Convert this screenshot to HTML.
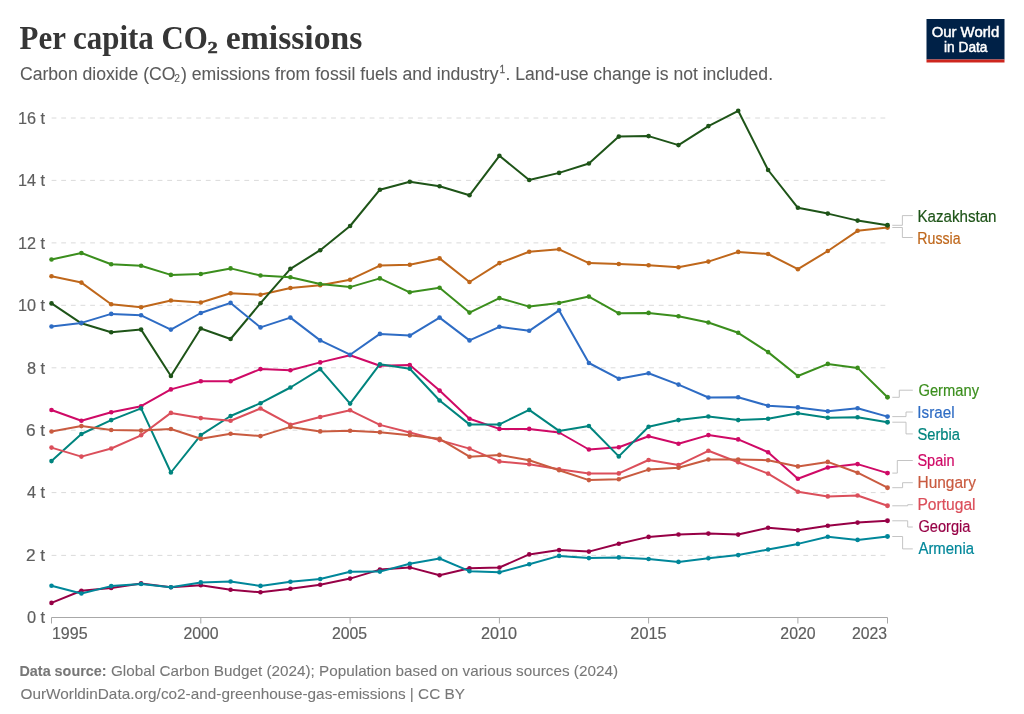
<!DOCTYPE html>
<html><head><meta charset="utf-8"><style>
html,body{margin:0;padding:0;background:#fff;}
body{width:1024px;height:714px;overflow:hidden;position:relative;}
svg{position:absolute;left:0;top:0;will-change:transform;}
text{font-family:"Liberation Sans",sans-serif;}
</style></head><body>
<svg width="1024" height="714" viewBox="0 0 1024 714">
<g id="chart">
<line x1="51.6" y1="118.0" x2="885.6" y2="118.0" stroke="#dadada" stroke-width="1" stroke-dasharray="4.82,4.818"/>
<line x1="51.6" y1="180.4" x2="885.6" y2="180.4" stroke="#dadada" stroke-width="1" stroke-dasharray="4.82,4.818"/>
<line x1="51.6" y1="242.9" x2="885.6" y2="242.9" stroke="#dadada" stroke-width="1" stroke-dasharray="4.82,4.818"/>
<line x1="51.6" y1="305.3" x2="885.6" y2="305.3" stroke="#dadada" stroke-width="1" stroke-dasharray="4.82,4.818"/>
<line x1="51.6" y1="367.8" x2="885.6" y2="367.8" stroke="#dadada" stroke-width="1" stroke-dasharray="4.82,4.818"/>
<line x1="51.6" y1="430.2" x2="885.6" y2="430.2" stroke="#dadada" stroke-width="1" stroke-dasharray="4.82,4.818"/>
<line x1="51.6" y1="492.6" x2="885.6" y2="492.6" stroke="#dadada" stroke-width="1" stroke-dasharray="4.82,4.818"/>
<line x1="51.6" y1="555.4" x2="885.6" y2="555.4" stroke="#dadada" stroke-width="1" stroke-dasharray="4.82,4.818"/>
<line x1="51.5" y1="617.5" x2="887.5" y2="617.5" stroke="#a8a8a8" stroke-width="1"/>
<line x1="51.5" y1="617.5" x2="51.5" y2="623.5" stroke="#a8a8a8" stroke-width="1"/>
<line x1="200.8" y1="617.5" x2="200.8" y2="623.5" stroke="#a8a8a8" stroke-width="1"/>
<line x1="350.1" y1="617.5" x2="350.1" y2="623.5" stroke="#a8a8a8" stroke-width="1"/>
<line x1="499.4" y1="617.5" x2="499.4" y2="623.5" stroke="#a8a8a8" stroke-width="1"/>
<line x1="648.6" y1="617.5" x2="648.6" y2="623.5" stroke="#a8a8a8" stroke-width="1"/>
<line x1="797.9" y1="617.5" x2="797.9" y2="623.5" stroke="#a8a8a8" stroke-width="1"/>
<line x1="887.5" y1="617.5" x2="887.5" y2="623.5" stroke="#a8a8a8" stroke-width="1"/>
<rect x="926.5" y="19" width="78" height="40.5" fill="#002147"/>
<rect x="926.5" y="59.5" width="78" height="3" fill="#ce261e"/>
<polyline points="51.5,410.0 81.4,420.8 111.2,412.3 141.1,406.2 170.9,389.4 200.8,381.3 230.6,381.3 260.5,369.1 290.4,370.2 320.2,362.4 350.1,355.2 379.9,365.8 409.8,365.1 439.6,390.6 469.5,418.8 499.4,428.9 529.2,428.9 559.1,432.5 588.9,449.5 618.8,447.2 648.6,436.2 678.5,443.8 708.4,435.1 738.2,439.4 768.1,452.2 797.9,478.7 827.8,467.5 857.6,464.1 887.5,473.1" fill="none" stroke="#CF0A66" stroke-width="2" stroke-linejoin="round" stroke-linecap="round"/>
<circle cx="51.5" cy="410.0" r="2.3" fill="#CF0A66"/>
<circle cx="81.4" cy="420.8" r="2.3" fill="#CF0A66"/>
<circle cx="111.2" cy="412.3" r="2.3" fill="#CF0A66"/>
<circle cx="141.1" cy="406.2" r="2.3" fill="#CF0A66"/>
<circle cx="170.9" cy="389.4" r="2.3" fill="#CF0A66"/>
<circle cx="200.8" cy="381.3" r="2.3" fill="#CF0A66"/>
<circle cx="230.6" cy="381.3" r="2.3" fill="#CF0A66"/>
<circle cx="260.5" cy="369.1" r="2.3" fill="#CF0A66"/>
<circle cx="290.4" cy="370.2" r="2.3" fill="#CF0A66"/>
<circle cx="320.2" cy="362.4" r="2.3" fill="#CF0A66"/>
<circle cx="350.1" cy="355.2" r="2.3" fill="#CF0A66"/>
<circle cx="379.9" cy="365.8" r="2.3" fill="#CF0A66"/>
<circle cx="409.8" cy="365.1" r="2.3" fill="#CF0A66"/>
<circle cx="439.6" cy="390.6" r="2.3" fill="#CF0A66"/>
<circle cx="469.5" cy="418.8" r="2.3" fill="#CF0A66"/>
<circle cx="499.4" cy="428.9" r="2.3" fill="#CF0A66"/>
<circle cx="529.2" cy="428.9" r="2.3" fill="#CF0A66"/>
<circle cx="559.1" cy="432.5" r="2.3" fill="#CF0A66"/>
<circle cx="588.9" cy="449.5" r="2.3" fill="#CF0A66"/>
<circle cx="618.8" cy="447.2" r="2.3" fill="#CF0A66"/>
<circle cx="648.6" cy="436.2" r="2.3" fill="#CF0A66"/>
<circle cx="678.5" cy="443.8" r="2.3" fill="#CF0A66"/>
<circle cx="708.4" cy="435.1" r="2.3" fill="#CF0A66"/>
<circle cx="738.2" cy="439.4" r="2.3" fill="#CF0A66"/>
<circle cx="768.1" cy="452.2" r="2.3" fill="#CF0A66"/>
<circle cx="797.9" cy="478.7" r="2.3" fill="#CF0A66"/>
<circle cx="827.8" cy="467.5" r="2.3" fill="#CF0A66"/>
<circle cx="857.6" cy="464.1" r="2.3" fill="#CF0A66"/>
<circle cx="887.5" cy="473.1" r="2.45" fill="#CF0A66"/>
<polyline points="51.5,461.1 81.4,434.0 111.2,420.1 141.1,408.4 170.9,472.5 200.8,435.1 230.6,416.0 260.5,403.2 290.4,387.5 320.2,369.1 350.1,403.6 379.9,364.2 409.8,368.7 439.6,400.5 469.5,424.4 499.4,424.4 529.2,409.9 559.1,430.9 588.9,426.0 618.8,456.4 648.6,426.8 678.5,420.1 708.4,416.5 738.2,420.1 768.1,418.8 797.9,413.2 827.8,417.7 857.6,417.2 887.5,422.2" fill="none" stroke="#00847E" stroke-width="2" stroke-linejoin="round" stroke-linecap="round"/>
<circle cx="51.5" cy="461.1" r="2.3" fill="#00847E"/>
<circle cx="81.4" cy="434.0" r="2.3" fill="#00847E"/>
<circle cx="111.2" cy="420.1" r="2.3" fill="#00847E"/>
<circle cx="141.1" cy="408.4" r="2.3" fill="#00847E"/>
<circle cx="170.9" cy="472.5" r="2.3" fill="#00847E"/>
<circle cx="200.8" cy="435.1" r="2.3" fill="#00847E"/>
<circle cx="230.6" cy="416.0" r="2.3" fill="#00847E"/>
<circle cx="260.5" cy="403.2" r="2.3" fill="#00847E"/>
<circle cx="290.4" cy="387.5" r="2.3" fill="#00847E"/>
<circle cx="320.2" cy="369.1" r="2.3" fill="#00847E"/>
<circle cx="350.1" cy="403.6" r="2.3" fill="#00847E"/>
<circle cx="379.9" cy="364.2" r="2.3" fill="#00847E"/>
<circle cx="409.8" cy="368.7" r="2.3" fill="#00847E"/>
<circle cx="439.6" cy="400.5" r="2.3" fill="#00847E"/>
<circle cx="469.5" cy="424.4" r="2.3" fill="#00847E"/>
<circle cx="499.4" cy="424.4" r="2.3" fill="#00847E"/>
<circle cx="529.2" cy="409.9" r="2.3" fill="#00847E"/>
<circle cx="559.1" cy="430.9" r="2.3" fill="#00847E"/>
<circle cx="588.9" cy="426.0" r="2.3" fill="#00847E"/>
<circle cx="618.8" cy="456.4" r="2.3" fill="#00847E"/>
<circle cx="648.6" cy="426.8" r="2.3" fill="#00847E"/>
<circle cx="678.5" cy="420.1" r="2.3" fill="#00847E"/>
<circle cx="708.4" cy="416.5" r="2.3" fill="#00847E"/>
<circle cx="738.2" cy="420.1" r="2.3" fill="#00847E"/>
<circle cx="768.1" cy="418.8" r="2.3" fill="#00847E"/>
<circle cx="797.9" cy="413.2" r="2.3" fill="#00847E"/>
<circle cx="827.8" cy="417.7" r="2.3" fill="#00847E"/>
<circle cx="857.6" cy="417.2" r="2.3" fill="#00847E"/>
<circle cx="887.5" cy="422.2" r="2.45" fill="#00847E"/>
<polyline points="51.5,276.3 81.4,282.6 111.2,304.3 141.1,307.2 170.9,300.5 200.8,302.5 230.6,293.3 260.5,294.7 290.4,288.0 320.2,285.3 350.1,279.7 379.9,265.6 409.8,264.8 439.6,258.4 469.5,282.0 499.4,263.1 529.2,251.7 559.1,249.3 588.9,263.1 618.8,264.0 648.6,265.2 678.5,267.2 708.4,261.6 738.2,251.9 768.1,254.0 797.9,269.2 827.8,251.0 857.6,230.8 887.5,227.5" fill="none" stroke="#BF671B" stroke-width="2" stroke-linejoin="round" stroke-linecap="round"/>
<circle cx="51.5" cy="276.3" r="2.3" fill="#BF671B"/>
<circle cx="81.4" cy="282.6" r="2.3" fill="#BF671B"/>
<circle cx="111.2" cy="304.3" r="2.3" fill="#BF671B"/>
<circle cx="141.1" cy="307.2" r="2.3" fill="#BF671B"/>
<circle cx="170.9" cy="300.5" r="2.3" fill="#BF671B"/>
<circle cx="200.8" cy="302.5" r="2.3" fill="#BF671B"/>
<circle cx="230.6" cy="293.3" r="2.3" fill="#BF671B"/>
<circle cx="260.5" cy="294.7" r="2.3" fill="#BF671B"/>
<circle cx="290.4" cy="288.0" r="2.3" fill="#BF671B"/>
<circle cx="320.2" cy="285.3" r="2.3" fill="#BF671B"/>
<circle cx="350.1" cy="279.7" r="2.3" fill="#BF671B"/>
<circle cx="379.9" cy="265.6" r="2.3" fill="#BF671B"/>
<circle cx="409.8" cy="264.8" r="2.3" fill="#BF671B"/>
<circle cx="439.6" cy="258.4" r="2.3" fill="#BF671B"/>
<circle cx="469.5" cy="282.0" r="2.3" fill="#BF671B"/>
<circle cx="499.4" cy="263.1" r="2.3" fill="#BF671B"/>
<circle cx="529.2" cy="251.7" r="2.3" fill="#BF671B"/>
<circle cx="559.1" cy="249.3" r="2.3" fill="#BF671B"/>
<circle cx="588.9" cy="263.1" r="2.3" fill="#BF671B"/>
<circle cx="618.8" cy="264.0" r="2.3" fill="#BF671B"/>
<circle cx="648.6" cy="265.2" r="2.3" fill="#BF671B"/>
<circle cx="678.5" cy="267.2" r="2.3" fill="#BF671B"/>
<circle cx="708.4" cy="261.6" r="2.3" fill="#BF671B"/>
<circle cx="738.2" cy="251.9" r="2.3" fill="#BF671B"/>
<circle cx="768.1" cy="254.0" r="2.3" fill="#BF671B"/>
<circle cx="797.9" cy="269.2" r="2.3" fill="#BF671B"/>
<circle cx="827.8" cy="251.0" r="2.3" fill="#BF671B"/>
<circle cx="857.6" cy="230.8" r="2.3" fill="#BF671B"/>
<circle cx="887.5" cy="227.5" r="2.45" fill="#BF671B"/>
<polyline points="51.5,447.6 81.4,456.6 111.2,448.5 141.1,435.3 170.9,412.9 200.8,418.1 230.6,420.7 260.5,408.5 290.4,424.7 320.2,417.0 350.1,410.3 379.9,424.9 409.8,432.5 439.6,440.1 469.5,448.6 499.4,461.4 529.2,464.3 559.1,469.2 588.9,473.5 618.8,473.4 648.6,460.0 678.5,465.1 708.4,450.8 738.2,462.2 768.1,473.6 797.9,491.7 827.8,496.4 857.6,495.5 887.5,505.8" fill="none" stroke="#DB4F5B" stroke-width="2" stroke-linejoin="round" stroke-linecap="round"/>
<circle cx="51.5" cy="447.6" r="2.3" fill="#DB4F5B"/>
<circle cx="81.4" cy="456.6" r="2.3" fill="#DB4F5B"/>
<circle cx="111.2" cy="448.5" r="2.3" fill="#DB4F5B"/>
<circle cx="141.1" cy="435.3" r="2.3" fill="#DB4F5B"/>
<circle cx="170.9" cy="412.9" r="2.3" fill="#DB4F5B"/>
<circle cx="200.8" cy="418.1" r="2.3" fill="#DB4F5B"/>
<circle cx="230.6" cy="420.7" r="2.3" fill="#DB4F5B"/>
<circle cx="260.5" cy="408.5" r="2.3" fill="#DB4F5B"/>
<circle cx="290.4" cy="424.7" r="2.3" fill="#DB4F5B"/>
<circle cx="320.2" cy="417.0" r="2.3" fill="#DB4F5B"/>
<circle cx="350.1" cy="410.3" r="2.3" fill="#DB4F5B"/>
<circle cx="379.9" cy="424.9" r="2.3" fill="#DB4F5B"/>
<circle cx="409.8" cy="432.5" r="2.3" fill="#DB4F5B"/>
<circle cx="439.6" cy="440.1" r="2.3" fill="#DB4F5B"/>
<circle cx="469.5" cy="448.6" r="2.3" fill="#DB4F5B"/>
<circle cx="499.4" cy="461.4" r="2.3" fill="#DB4F5B"/>
<circle cx="529.2" cy="464.3" r="2.3" fill="#DB4F5B"/>
<circle cx="559.1" cy="469.2" r="2.3" fill="#DB4F5B"/>
<circle cx="588.9" cy="473.5" r="2.3" fill="#DB4F5B"/>
<circle cx="618.8" cy="473.4" r="2.3" fill="#DB4F5B"/>
<circle cx="648.6" cy="460.0" r="2.3" fill="#DB4F5B"/>
<circle cx="678.5" cy="465.1" r="2.3" fill="#DB4F5B"/>
<circle cx="708.4" cy="450.8" r="2.3" fill="#DB4F5B"/>
<circle cx="738.2" cy="462.2" r="2.3" fill="#DB4F5B"/>
<circle cx="768.1" cy="473.6" r="2.3" fill="#DB4F5B"/>
<circle cx="797.9" cy="491.7" r="2.3" fill="#DB4F5B"/>
<circle cx="827.8" cy="496.4" r="2.3" fill="#DB4F5B"/>
<circle cx="857.6" cy="495.5" r="2.3" fill="#DB4F5B"/>
<circle cx="887.5" cy="505.8" r="2.45" fill="#DB4F5B"/>
<polyline points="51.5,303.4 81.4,323.3 111.2,332.3 141.1,329.6 170.9,376.0 200.8,328.5 230.6,339.0 260.5,303.2 290.4,268.8 320.2,250.2 350.1,226.0 379.9,189.7 409.8,181.8 439.6,186.3 469.5,195.3 499.4,155.8 529.2,180.0 559.1,172.9 588.9,163.5 618.8,136.6 648.6,136.1 678.5,145.1 708.4,126.1 738.2,110.8 768.1,170.0 797.9,207.8 827.8,213.6 857.6,220.6 887.5,225.3" fill="none" stroke="#1E5418" stroke-width="2" stroke-linejoin="round" stroke-linecap="round"/>
<circle cx="51.5" cy="303.4" r="2.3" fill="#1E5418"/>
<circle cx="81.4" cy="323.3" r="2.3" fill="#1E5418"/>
<circle cx="111.2" cy="332.3" r="2.3" fill="#1E5418"/>
<circle cx="141.1" cy="329.6" r="2.3" fill="#1E5418"/>
<circle cx="170.9" cy="376.0" r="2.3" fill="#1E5418"/>
<circle cx="200.8" cy="328.5" r="2.3" fill="#1E5418"/>
<circle cx="230.6" cy="339.0" r="2.3" fill="#1E5418"/>
<circle cx="260.5" cy="303.2" r="2.3" fill="#1E5418"/>
<circle cx="290.4" cy="268.8" r="2.3" fill="#1E5418"/>
<circle cx="320.2" cy="250.2" r="2.3" fill="#1E5418"/>
<circle cx="350.1" cy="226.0" r="2.3" fill="#1E5418"/>
<circle cx="379.9" cy="189.7" r="2.3" fill="#1E5418"/>
<circle cx="409.8" cy="181.8" r="2.3" fill="#1E5418"/>
<circle cx="439.6" cy="186.3" r="2.3" fill="#1E5418"/>
<circle cx="469.5" cy="195.3" r="2.3" fill="#1E5418"/>
<circle cx="499.4" cy="155.8" r="2.3" fill="#1E5418"/>
<circle cx="529.2" cy="180.0" r="2.3" fill="#1E5418"/>
<circle cx="559.1" cy="172.9" r="2.3" fill="#1E5418"/>
<circle cx="588.9" cy="163.5" r="2.3" fill="#1E5418"/>
<circle cx="618.8" cy="136.6" r="2.3" fill="#1E5418"/>
<circle cx="648.6" cy="136.1" r="2.3" fill="#1E5418"/>
<circle cx="678.5" cy="145.1" r="2.3" fill="#1E5418"/>
<circle cx="708.4" cy="126.1" r="2.3" fill="#1E5418"/>
<circle cx="738.2" cy="110.8" r="2.3" fill="#1E5418"/>
<circle cx="768.1" cy="170.0" r="2.3" fill="#1E5418"/>
<circle cx="797.9" cy="207.8" r="2.3" fill="#1E5418"/>
<circle cx="827.8" cy="213.6" r="2.3" fill="#1E5418"/>
<circle cx="857.6" cy="220.6" r="2.3" fill="#1E5418"/>
<circle cx="887.5" cy="225.3" r="2.45" fill="#1E5418"/>
<polyline points="51.5,326.5 81.4,322.9 111.2,313.9 141.1,315.3 170.9,329.6 200.8,313.0 230.6,302.9 260.5,327.4 290.4,317.6 320.2,340.4 350.1,354.7 379.9,333.9 409.8,335.6 439.6,317.6 469.5,340.4 499.4,326.8 529.2,330.8 559.1,310.4 588.9,363.0 618.8,378.7 648.6,373.3 678.5,384.6 708.4,397.5 738.2,397.2 768.1,405.8 797.9,407.4 827.8,411.3 857.6,408.2 887.5,416.6" fill="none" stroke="#2E6CC4" stroke-width="2" stroke-linejoin="round" stroke-linecap="round"/>
<circle cx="51.5" cy="326.5" r="2.3" fill="#2E6CC4"/>
<circle cx="81.4" cy="322.9" r="2.3" fill="#2E6CC4"/>
<circle cx="111.2" cy="313.9" r="2.3" fill="#2E6CC4"/>
<circle cx="141.1" cy="315.3" r="2.3" fill="#2E6CC4"/>
<circle cx="170.9" cy="329.6" r="2.3" fill="#2E6CC4"/>
<circle cx="200.8" cy="313.0" r="2.3" fill="#2E6CC4"/>
<circle cx="230.6" cy="302.9" r="2.3" fill="#2E6CC4"/>
<circle cx="260.5" cy="327.4" r="2.3" fill="#2E6CC4"/>
<circle cx="290.4" cy="317.6" r="2.3" fill="#2E6CC4"/>
<circle cx="320.2" cy="340.4" r="2.3" fill="#2E6CC4"/>
<circle cx="350.1" cy="354.7" r="2.3" fill="#2E6CC4"/>
<circle cx="379.9" cy="333.9" r="2.3" fill="#2E6CC4"/>
<circle cx="409.8" cy="335.6" r="2.3" fill="#2E6CC4"/>
<circle cx="439.6" cy="317.6" r="2.3" fill="#2E6CC4"/>
<circle cx="469.5" cy="340.4" r="2.3" fill="#2E6CC4"/>
<circle cx="499.4" cy="326.8" r="2.3" fill="#2E6CC4"/>
<circle cx="529.2" cy="330.8" r="2.3" fill="#2E6CC4"/>
<circle cx="559.1" cy="310.4" r="2.3" fill="#2E6CC4"/>
<circle cx="588.9" cy="363.0" r="2.3" fill="#2E6CC4"/>
<circle cx="618.8" cy="378.7" r="2.3" fill="#2E6CC4"/>
<circle cx="648.6" cy="373.3" r="2.3" fill="#2E6CC4"/>
<circle cx="678.5" cy="384.6" r="2.3" fill="#2E6CC4"/>
<circle cx="708.4" cy="397.5" r="2.3" fill="#2E6CC4"/>
<circle cx="738.2" cy="397.2" r="2.3" fill="#2E6CC4"/>
<circle cx="768.1" cy="405.8" r="2.3" fill="#2E6CC4"/>
<circle cx="797.9" cy="407.4" r="2.3" fill="#2E6CC4"/>
<circle cx="827.8" cy="411.3" r="2.3" fill="#2E6CC4"/>
<circle cx="857.6" cy="408.2" r="2.3" fill="#2E6CC4"/>
<circle cx="887.5" cy="416.6" r="2.45" fill="#2E6CC4"/>
<polyline points="51.5,431.5 81.4,426.1 111.2,430.0 141.1,430.6 170.9,429.0 200.8,438.7 230.6,433.7 260.5,436.1 290.4,426.9 320.2,431.4 350.1,430.7 379.9,432.3 409.8,435.2 439.6,438.8 469.5,456.7 499.4,454.9 529.2,460.3 559.1,470.3 588.9,480.1 618.8,479.2 648.6,469.6 678.5,467.8 708.4,459.5 738.2,459.5 768.1,460.2 797.9,466.4 827.8,461.9 857.6,472.7 887.5,487.7" fill="none" stroke="#C95B40" stroke-width="2" stroke-linejoin="round" stroke-linecap="round"/>
<circle cx="51.5" cy="431.5" r="2.3" fill="#C95B40"/>
<circle cx="81.4" cy="426.1" r="2.3" fill="#C95B40"/>
<circle cx="111.2" cy="430.0" r="2.3" fill="#C95B40"/>
<circle cx="141.1" cy="430.6" r="2.3" fill="#C95B40"/>
<circle cx="170.9" cy="429.0" r="2.3" fill="#C95B40"/>
<circle cx="200.8" cy="438.7" r="2.3" fill="#C95B40"/>
<circle cx="230.6" cy="433.7" r="2.3" fill="#C95B40"/>
<circle cx="260.5" cy="436.1" r="2.3" fill="#C95B40"/>
<circle cx="290.4" cy="426.9" r="2.3" fill="#C95B40"/>
<circle cx="320.2" cy="431.4" r="2.3" fill="#C95B40"/>
<circle cx="350.1" cy="430.7" r="2.3" fill="#C95B40"/>
<circle cx="379.9" cy="432.3" r="2.3" fill="#C95B40"/>
<circle cx="409.8" cy="435.2" r="2.3" fill="#C95B40"/>
<circle cx="439.6" cy="438.8" r="2.3" fill="#C95B40"/>
<circle cx="469.5" cy="456.7" r="2.3" fill="#C95B40"/>
<circle cx="499.4" cy="454.9" r="2.3" fill="#C95B40"/>
<circle cx="529.2" cy="460.3" r="2.3" fill="#C95B40"/>
<circle cx="559.1" cy="470.3" r="2.3" fill="#C95B40"/>
<circle cx="588.9" cy="480.1" r="2.3" fill="#C95B40"/>
<circle cx="618.8" cy="479.2" r="2.3" fill="#C95B40"/>
<circle cx="648.6" cy="469.6" r="2.3" fill="#C95B40"/>
<circle cx="678.5" cy="467.8" r="2.3" fill="#C95B40"/>
<circle cx="708.4" cy="459.5" r="2.3" fill="#C95B40"/>
<circle cx="738.2" cy="459.5" r="2.3" fill="#C95B40"/>
<circle cx="768.1" cy="460.2" r="2.3" fill="#C95B40"/>
<circle cx="797.9" cy="466.4" r="2.3" fill="#C95B40"/>
<circle cx="827.8" cy="461.9" r="2.3" fill="#C95B40"/>
<circle cx="857.6" cy="472.7" r="2.3" fill="#C95B40"/>
<circle cx="887.5" cy="487.7" r="2.45" fill="#C95B40"/>
<polyline points="51.5,259.5 81.4,253.0 111.2,264.2 141.1,265.8 170.9,274.9 200.8,274.0 230.6,268.4 260.5,275.5 290.4,277.3 320.2,284.0 350.1,287.1 379.9,278.4 409.8,292.3 439.6,287.8 469.5,312.6 499.4,298.1 529.2,306.6 559.1,303.0 588.9,296.6 618.8,313.3 648.6,312.9 678.5,316.2 708.4,322.5 738.2,332.8 768.1,352.1 797.9,376.0 827.8,363.9 857.6,367.9 887.5,397.3" fill="none" stroke="#3B8E1D" stroke-width="2" stroke-linejoin="round" stroke-linecap="round"/>
<circle cx="51.5" cy="259.5" r="2.3" fill="#3B8E1D"/>
<circle cx="81.4" cy="253.0" r="2.3" fill="#3B8E1D"/>
<circle cx="111.2" cy="264.2" r="2.3" fill="#3B8E1D"/>
<circle cx="141.1" cy="265.8" r="2.3" fill="#3B8E1D"/>
<circle cx="170.9" cy="274.9" r="2.3" fill="#3B8E1D"/>
<circle cx="200.8" cy="274.0" r="2.3" fill="#3B8E1D"/>
<circle cx="230.6" cy="268.4" r="2.3" fill="#3B8E1D"/>
<circle cx="260.5" cy="275.5" r="2.3" fill="#3B8E1D"/>
<circle cx="290.4" cy="277.3" r="2.3" fill="#3B8E1D"/>
<circle cx="320.2" cy="284.0" r="2.3" fill="#3B8E1D"/>
<circle cx="350.1" cy="287.1" r="2.3" fill="#3B8E1D"/>
<circle cx="379.9" cy="278.4" r="2.3" fill="#3B8E1D"/>
<circle cx="409.8" cy="292.3" r="2.3" fill="#3B8E1D"/>
<circle cx="439.6" cy="287.8" r="2.3" fill="#3B8E1D"/>
<circle cx="469.5" cy="312.6" r="2.3" fill="#3B8E1D"/>
<circle cx="499.4" cy="298.1" r="2.3" fill="#3B8E1D"/>
<circle cx="529.2" cy="306.6" r="2.3" fill="#3B8E1D"/>
<circle cx="559.1" cy="303.0" r="2.3" fill="#3B8E1D"/>
<circle cx="588.9" cy="296.6" r="2.3" fill="#3B8E1D"/>
<circle cx="618.8" cy="313.3" r="2.3" fill="#3B8E1D"/>
<circle cx="648.6" cy="312.9" r="2.3" fill="#3B8E1D"/>
<circle cx="678.5" cy="316.2" r="2.3" fill="#3B8E1D"/>
<circle cx="708.4" cy="322.5" r="2.3" fill="#3B8E1D"/>
<circle cx="738.2" cy="332.8" r="2.3" fill="#3B8E1D"/>
<circle cx="768.1" cy="352.1" r="2.3" fill="#3B8E1D"/>
<circle cx="797.9" cy="376.0" r="2.3" fill="#3B8E1D"/>
<circle cx="827.8" cy="363.9" r="2.3" fill="#3B8E1D"/>
<circle cx="857.6" cy="367.9" r="2.3" fill="#3B8E1D"/>
<circle cx="887.5" cy="397.3" r="2.45" fill="#3B8E1D"/>
<polyline points="51.5,602.9 81.4,590.8 111.2,587.9 141.1,583.4 170.9,587.3 200.8,585.3 230.6,589.8 260.5,592.3 290.4,588.8 320.2,584.7 350.1,578.6 379.9,569.6 409.8,567.4 439.6,575.3 469.5,568.2 499.4,567.5 529.2,554.4 559.1,550.1 588.9,551.6 618.8,543.8 648.6,536.9 678.5,534.5 708.4,533.6 738.2,534.6 768.1,527.8 797.9,530.3 827.8,525.8 857.6,522.6 887.5,520.8" fill="none" stroke="#970046" stroke-width="2" stroke-linejoin="round" stroke-linecap="round"/>
<circle cx="51.5" cy="602.9" r="2.3" fill="#970046"/>
<circle cx="81.4" cy="590.8" r="2.3" fill="#970046"/>
<circle cx="111.2" cy="587.9" r="2.3" fill="#970046"/>
<circle cx="141.1" cy="583.4" r="2.3" fill="#970046"/>
<circle cx="170.9" cy="587.3" r="2.3" fill="#970046"/>
<circle cx="200.8" cy="585.3" r="2.3" fill="#970046"/>
<circle cx="230.6" cy="589.8" r="2.3" fill="#970046"/>
<circle cx="260.5" cy="592.3" r="2.3" fill="#970046"/>
<circle cx="290.4" cy="588.8" r="2.3" fill="#970046"/>
<circle cx="320.2" cy="584.7" r="2.3" fill="#970046"/>
<circle cx="350.1" cy="578.6" r="2.3" fill="#970046"/>
<circle cx="379.9" cy="569.6" r="2.3" fill="#970046"/>
<circle cx="409.8" cy="567.4" r="2.3" fill="#970046"/>
<circle cx="439.6" cy="575.3" r="2.3" fill="#970046"/>
<circle cx="469.5" cy="568.2" r="2.3" fill="#970046"/>
<circle cx="499.4" cy="567.5" r="2.3" fill="#970046"/>
<circle cx="529.2" cy="554.4" r="2.3" fill="#970046"/>
<circle cx="559.1" cy="550.1" r="2.3" fill="#970046"/>
<circle cx="588.9" cy="551.6" r="2.3" fill="#970046"/>
<circle cx="618.8" cy="543.8" r="2.3" fill="#970046"/>
<circle cx="648.6" cy="536.9" r="2.3" fill="#970046"/>
<circle cx="678.5" cy="534.5" r="2.3" fill="#970046"/>
<circle cx="708.4" cy="533.6" r="2.3" fill="#970046"/>
<circle cx="738.2" cy="534.6" r="2.3" fill="#970046"/>
<circle cx="768.1" cy="527.8" r="2.3" fill="#970046"/>
<circle cx="797.9" cy="530.3" r="2.3" fill="#970046"/>
<circle cx="827.8" cy="525.8" r="2.3" fill="#970046"/>
<circle cx="857.6" cy="522.6" r="2.3" fill="#970046"/>
<circle cx="887.5" cy="520.8" r="2.45" fill="#970046"/>
<polyline points="51.5,585.7 81.4,593.5 111.2,586.1 141.1,584.0 170.9,587.3 200.8,582.4 230.6,581.5 260.5,585.9 290.4,581.8 320.2,579.0 350.1,571.8 379.9,571.6 409.8,563.7 439.6,558.5 469.5,571.2 499.4,572.3 529.2,564.3 559.1,555.9 588.9,558.1 618.8,557.4 648.6,559.0 678.5,561.9 708.4,558.2 738.2,555.1 768.1,549.5 797.9,543.9 827.8,536.8 857.6,539.9 887.5,536.5" fill="none" stroke="#00879A" stroke-width="2" stroke-linejoin="round" stroke-linecap="round"/>
<circle cx="51.5" cy="585.7" r="2.3" fill="#00879A"/>
<circle cx="81.4" cy="593.5" r="2.3" fill="#00879A"/>
<circle cx="111.2" cy="586.1" r="2.3" fill="#00879A"/>
<circle cx="141.1" cy="584.0" r="2.3" fill="#00879A"/>
<circle cx="170.9" cy="587.3" r="2.3" fill="#00879A"/>
<circle cx="200.8" cy="582.4" r="2.3" fill="#00879A"/>
<circle cx="230.6" cy="581.5" r="2.3" fill="#00879A"/>
<circle cx="260.5" cy="585.9" r="2.3" fill="#00879A"/>
<circle cx="290.4" cy="581.8" r="2.3" fill="#00879A"/>
<circle cx="320.2" cy="579.0" r="2.3" fill="#00879A"/>
<circle cx="350.1" cy="571.8" r="2.3" fill="#00879A"/>
<circle cx="379.9" cy="571.6" r="2.3" fill="#00879A"/>
<circle cx="409.8" cy="563.7" r="2.3" fill="#00879A"/>
<circle cx="439.6" cy="558.5" r="2.3" fill="#00879A"/>
<circle cx="469.5" cy="571.2" r="2.3" fill="#00879A"/>
<circle cx="499.4" cy="572.3" r="2.3" fill="#00879A"/>
<circle cx="529.2" cy="564.3" r="2.3" fill="#00879A"/>
<circle cx="559.1" cy="555.9" r="2.3" fill="#00879A"/>
<circle cx="588.9" cy="558.1" r="2.3" fill="#00879A"/>
<circle cx="618.8" cy="557.4" r="2.3" fill="#00879A"/>
<circle cx="648.6" cy="559.0" r="2.3" fill="#00879A"/>
<circle cx="678.5" cy="561.9" r="2.3" fill="#00879A"/>
<circle cx="708.4" cy="558.2" r="2.3" fill="#00879A"/>
<circle cx="738.2" cy="555.1" r="2.3" fill="#00879A"/>
<circle cx="768.1" cy="549.5" r="2.3" fill="#00879A"/>
<circle cx="797.9" cy="543.9" r="2.3" fill="#00879A"/>
<circle cx="827.8" cy="536.8" r="2.3" fill="#00879A"/>
<circle cx="857.6" cy="539.9" r="2.3" fill="#00879A"/>
<circle cx="887.5" cy="536.5" r="2.45" fill="#00879A"/>
<polyline points="892.3,225.3 902.4,225.3 902.4,215.6 912.8,215.6" fill="none" stroke="#bdbdbd" stroke-width="0.9"/>
<polyline points="892.3,227.5 902.4,227.5 902.4,237.5 912.8,237.5" fill="none" stroke="#bdbdbd" stroke-width="0.9"/>
<polyline points="892.3,397.3 899.3,397.3 899.3,390.2 912.8,390.2" fill="none" stroke="#bdbdbd" stroke-width="0.9"/>
<polyline points="892.3,416.6 906,416.6 906,412.0 912.8,412.0" fill="none" stroke="#bdbdbd" stroke-width="0.9"/>
<polyline points="892.3,422.2 906,422.2 906,433.9 912.8,433.9" fill="none" stroke="#bdbdbd" stroke-width="0.9"/>
<polyline points="892.3,473.1 897.3,473.1 897.3,460.5 912.8,460.5" fill="none" stroke="#bdbdbd" stroke-width="0.9"/>
<polyline points="892.3,487.7 902.6,487.7 902.6,482.7 912.8,482.7" fill="none" stroke="#bdbdbd" stroke-width="0.9"/>
<polyline points="892.3,505.8 907.7,505.8 907.7,504.7 912.8,504.7" fill="none" stroke="#bdbdbd" stroke-width="0.9"/>
<polyline points="892.3,520.8 907.7,520.8 907.7,527.0 912.8,527.0" fill="none" stroke="#bdbdbd" stroke-width="0.9"/>
<polyline points="892.3,536.5 902.6,536.5 902.6,548.9 912.8,548.9" fill="none" stroke="#bdbdbd" stroke-width="0.9"/>
</g>
<g id="texts">
<text id="t1" x="19.58" y="48.7" font-size="34" style="font-family:'Liberation Serif',serif" font-weight="bold" fill="#363636" textLength="188.23" lengthAdjust="spacingAndGlyphs">Per capita CO</text>
<text id="t2" x="207.63" y="53.2" font-size="17.5" style="font-family:'Liberation Serif',serif" font-weight="bold" fill="#363636" stroke="#363636" stroke-width="0.5" textLength="10.21" lengthAdjust="spacingAndGlyphs">2</text>
<text id="t3" x="225.78" y="48.7" font-size="34" style="font-family:'Liberation Serif',serif" font-weight="bold" fill="#363636" textLength="136.64" lengthAdjust="spacingAndGlyphs">emissions</text>
<text id="s1" x="19.98" y="79.8" font-size="17.5" fill="#5b5b5b" stroke="#5b5b5b" stroke-width="0.08" textLength="155.54" lengthAdjust="spacingAndGlyphs">Carbon dioxide (CO</text>
<text id="s2" x="174.34" y="81.9" font-size="10.5" fill="#5b5b5b" stroke="#5b5b5b" stroke-width="0.08" textLength="5.70" lengthAdjust="spacingAndGlyphs">2</text>
<text id="s3" x="180.99" y="79.8" font-size="17.5" fill="#5b5b5b" stroke="#5b5b5b" stroke-width="0.08" textLength="317.52" lengthAdjust="spacingAndGlyphs">) emissions from fossil fuels and industry</text>
<text id="s4" x="499.67" y="73.1" font-size="11" fill="#5b5b5b" stroke="#5b5b5b" stroke-width="0.35" textLength="5.20" lengthAdjust="spacingAndGlyphs">1</text>
<text id="s5" x="505.47" y="79.8" font-size="17.5" fill="#5b5b5b" stroke="#5b5b5b" stroke-width="0.08" textLength="267.54" lengthAdjust="spacingAndGlyphs">. Land-use change is not included.</text>
<text id="l1" x="931.66" y="37.1" font-size="14" fill="#fff" stroke="#fff" stroke-width="0.45" textLength="67.56" lengthAdjust="spacingAndGlyphs">Our World</text>
<text id="l2" x="944.00" y="51.8" font-size="14" fill="#fff" stroke="#fff" stroke-width="0.45" textLength="43.45" lengthAdjust="spacingAndGlyphs">in Data</text>
<text id="y0" x="26.96" y="623.1" font-size="16.3" fill="#5e5e5e" stroke="#5e5e5e" stroke-width="0.18" textLength="18.22" lengthAdjust="spacingAndGlyphs">0 t</text>
<text id="y2" x="25.92" y="560.7" font-size="16.3" fill="#5e5e5e" stroke="#5e5e5e" stroke-width="0.18" textLength="19.23" lengthAdjust="spacingAndGlyphs">2 t</text>
<text id="y4" x="27.00" y="498.3" font-size="16.3" fill="#5e5e5e" stroke="#5e5e5e" stroke-width="0.18" textLength="18.16" lengthAdjust="spacingAndGlyphs">4 t</text>
<text id="y6" x="25.96" y="435.90000000000003" font-size="16.3" fill="#5e5e5e" stroke="#5e5e5e" stroke-width="0.18" textLength="19.23" lengthAdjust="spacingAndGlyphs">6 t</text>
<text id="y8" x="26.96" y="373.5" font-size="16.3" fill="#5e5e5e" stroke="#5e5e5e" stroke-width="0.18" textLength="18.22" lengthAdjust="spacingAndGlyphs">8 t</text>
<text id="y10" x="17.95" y="311.1" font-size="16.3" fill="#5e5e5e" stroke="#5e5e5e" stroke-width="0.18" textLength="27.12" lengthAdjust="spacingAndGlyphs">10 t</text>
<text id="y12" x="17.95" y="248.70000000000007" font-size="16.3" fill="#5e5e5e" stroke="#5e5e5e" stroke-width="0.18" textLength="27.12" lengthAdjust="spacingAndGlyphs">12 t</text>
<text id="y14" x="17.95" y="186.30000000000004" font-size="16.3" fill="#5e5e5e" stroke="#5e5e5e" stroke-width="0.18" textLength="27.12" lengthAdjust="spacingAndGlyphs">14 t</text>
<text id="y16" x="17.95" y="123.90000000000006" font-size="16.3" fill="#5e5e5e" stroke="#5e5e5e" stroke-width="0.18" textLength="27.12" lengthAdjust="spacingAndGlyphs">16 t</text>
<text id="x1995" x="51.91" y="639.0" font-size="16.3" fill="#5e5e5e" stroke="#5e5e5e" stroke-width="0.18" textLength="35.68" lengthAdjust="spacingAndGlyphs">1995</text>
<text id="x2000" x="183.38" y="639.0" font-size="16.3" fill="#5e5e5e" stroke="#5e5e5e" stroke-width="0.18" textLength="35.23" lengthAdjust="spacingAndGlyphs">2000</text>
<text id="x2005" x="331.90" y="639.0" font-size="16.3" fill="#5e5e5e" stroke="#5e5e5e" stroke-width="0.18" textLength="35.12" lengthAdjust="spacingAndGlyphs">2005</text>
<text id="x2010" x="480.98" y="639.0" font-size="16.3" fill="#5e5e5e" stroke="#5e5e5e" stroke-width="0.18" textLength="36.12" lengthAdjust="spacingAndGlyphs">2010</text>
<text id="x2015" x="630.35" y="639.0" font-size="16.3" fill="#5e5e5e" stroke="#5e5e5e" stroke-width="0.18" textLength="36.27" lengthAdjust="spacingAndGlyphs">2015</text>
<text id="x2020" x="780.37" y="639.0" font-size="16.3" fill="#5e5e5e" stroke="#5e5e5e" stroke-width="0.18" textLength="35.26" lengthAdjust="spacingAndGlyphs">2020</text>
<text id="x2023" x="851.94" y="639.0" font-size="16.3" fill="#5e5e5e" stroke="#5e5e5e" stroke-width="0.18" textLength="35.08" lengthAdjust="spacingAndGlyphs">2023</text>
<text id="labKazakhstan" x="917.45" y="221.5" font-size="16.3" fill="#1E5418" stroke="#1E5418" stroke-width="0.2" textLength="79.10" lengthAdjust="spacingAndGlyphs">Kazakhstan</text>
<text id="labRussia" x="917.36" y="243.5" font-size="16.3" fill="#BF671B" stroke="#BF671B" stroke-width="0.2" textLength="43.25" lengthAdjust="spacingAndGlyphs">Russia</text>
<text id="labGermany" x="918.46" y="395.6" font-size="16.3" fill="#3B8E1D" stroke="#3B8E1D" stroke-width="0.2" textLength="60.58" lengthAdjust="spacingAndGlyphs">Germany</text>
<text id="labIsrael" x="917.37" y="417.8" font-size="16.3" fill="#2E6CC4" stroke="#2E6CC4" stroke-width="0.2" textLength="37.20" lengthAdjust="spacingAndGlyphs">Israel</text>
<text id="labSerbia" x="917.42" y="439.8" font-size="16.3" fill="#00847E" stroke="#00847E" stroke-width="0.2" textLength="42.58" lengthAdjust="spacingAndGlyphs">Serbia</text>
<text id="labSpain" x="917.43" y="466.2" font-size="16.3" fill="#CF0A66" stroke="#CF0A66" stroke-width="0.2" textLength="37.13" lengthAdjust="spacingAndGlyphs">Spain</text>
<text id="labHungary" x="917.45" y="488.3" font-size="16.3" fill="#C95B40" stroke="#C95B40" stroke-width="0.2" textLength="58.57" lengthAdjust="spacingAndGlyphs">Hungary</text>
<text id="labPortugal" x="917.42" y="510.4" font-size="16.3" fill="#DB4F5B" stroke="#DB4F5B" stroke-width="0.2" textLength="58.16" lengthAdjust="spacingAndGlyphs">Portugal</text>
<text id="labGeorgia" x="918.45" y="532.4" font-size="16.3" fill="#970046" stroke="#970046" stroke-width="0.2" textLength="52.07" lengthAdjust="spacingAndGlyphs">Georgia</text>
<text id="labArmenia" x="918.46" y="554.4" font-size="16.3" fill="#00879A" stroke="#00879A" stroke-width="0.2" textLength="55.55" lengthAdjust="spacingAndGlyphs">Armenia</text>
<text id="f1" x="19.47" y="675.8" font-size="14.3" fill="#777" stroke="#777" stroke-width="0.08" font-weight="bold" textLength="87.06" lengthAdjust="spacingAndGlyphs">Data source:</text>
<text id="f2" x="110.99" y="675.8" font-size="14.3" fill="#777" stroke="#777" stroke-width="0.08" textLength="507.02" lengthAdjust="spacingAndGlyphs">Global Carbon Budget (2024); Population based on various sources (2024)</text>
<text id="f3" x="20.49" y="699.2" font-size="14.3" fill="#777" stroke="#777" stroke-width="0.08" textLength="444.52" lengthAdjust="spacingAndGlyphs">OurWorldinData.org/co2-and-greenhouse-gas-emissions | CC BY</text>
</g>
</svg>
</body></html>
